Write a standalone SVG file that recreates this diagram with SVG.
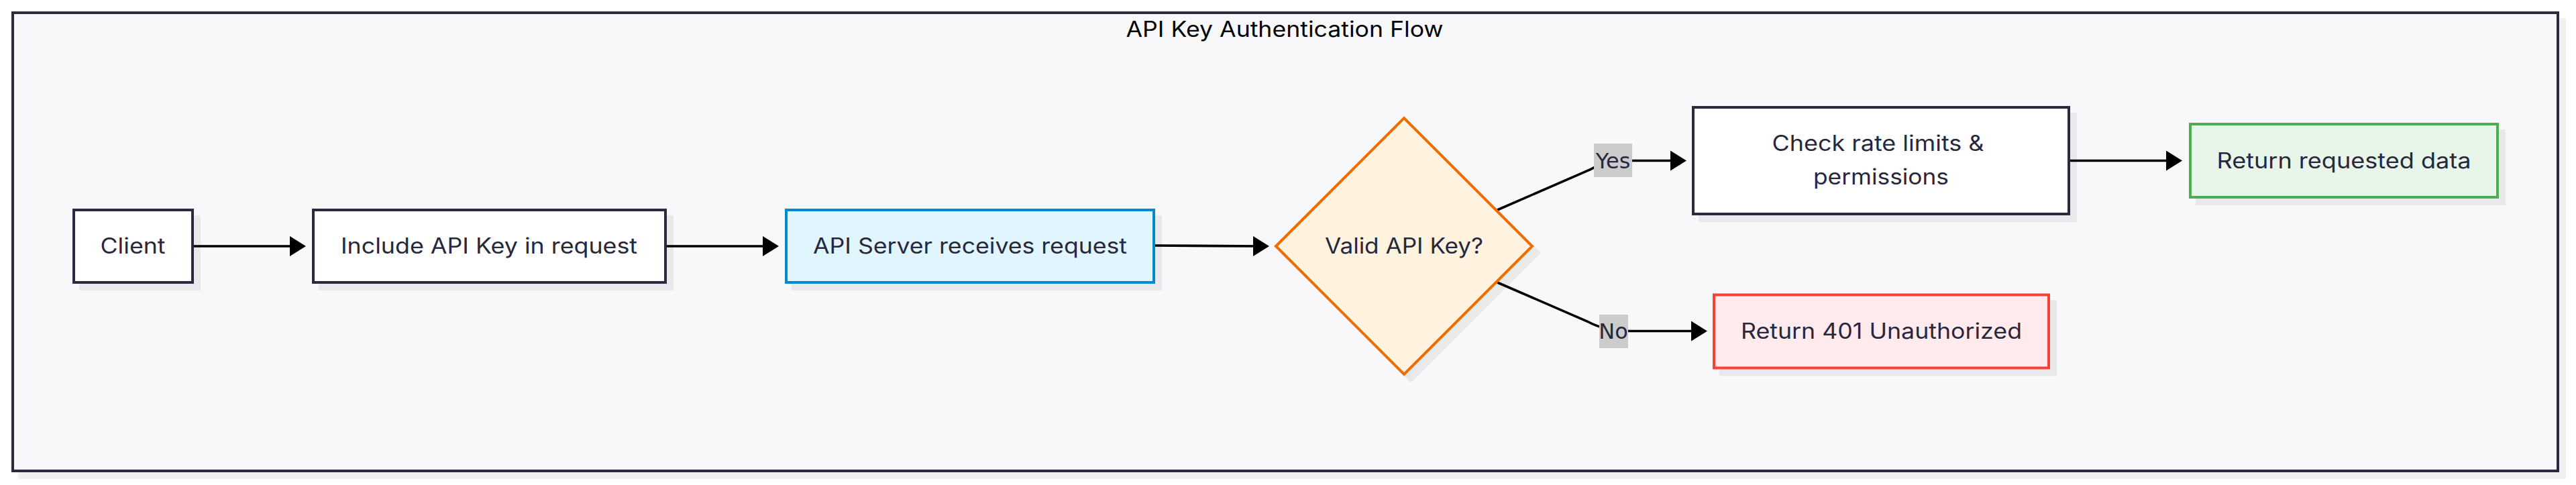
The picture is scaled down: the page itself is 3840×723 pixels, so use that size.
<svg xmlns="http://www.w3.org/2000/svg" width="3840" height="723" viewBox="0 0 3840 723">
<style>
.node{fill:#ffffff;stroke:#2b2a40;stroke-width:4;filter:url(#sh)}
.blue{fill:#e1f5fe;stroke:#0288d1}
.orange{fill:#fff3e0;stroke:#ef6c00}
.green{fill:#e8f5e9;stroke:#4caf50}
.red{fill:#ffebee;stroke:#f44336}
.t{font-family:Inter,"Noto Sans","Liberation Sans",sans-serif;font-size:32px;fill:#28283d;text-anchor:middle}
.title{font-family:Inter,"Noto Sans","Liberation Sans",sans-serif;font-size:32px;fill:#000000;text-anchor:middle}
.edge{fill:none;stroke:#000000;stroke-width:3.6;marker-end:url(#arr)}
.lblbg{fill:#cccccc}
.lbl{font-family:"DejaVu Sans",sans-serif;font-size:32px;fill:#28283d;text-anchor:middle}
</style>
<defs>
<filter id="sh" x="-10%" y="-10%" width="130%" height="140%">
<feDropShadow dx="10" dy="10" stdDeviation="0.6" flood-color="#000000" flood-opacity="0.06"/>
</filter>
<marker id="arr" viewBox="0 0 24 30" refX="12" refY="15" markerWidth="24" markerHeight="30" markerUnits="userSpaceOnUse" orient="auto">
<path d="M0,0 L24,15 L0,30 Z" fill="#000000"/>
</marker>
</defs>
<rect x="0" y="0" width="3840" height="723" fill="#ffffff"/>
<g id="cluster">
<rect x="19" y="19" width="3794" height="683" fill="#f8f8fa" stroke="#2b2a40" stroke-width="4" filter="url(#sh)"/>
<text class="title" x="1915" y="55" textLength="473" lengthAdjust="spacingAndGlyphs">API Key Authentication Flow</text>
</g>
<g id="connectors">
<path class="edge" d="M287,367 L444,367"/>
<path class="edge" d="M992,367 L1149,367"/>
<path class="edge" d="M1720,366 C1790,366 1820,367 1880,367"/>
<path class="edge" d="M2232,313 L2370,253 Q2392,240 2420,239.5 L2502,239.5"/>
<path class="edge" d="M2232,421 L2366,479 Q2392,493.5 2430,493.5 L2533,493.5"/>
<path class="edge" d="M3084,239.5 L3241,239.5"/>
<g id="label-yes">
<rect class="lblbg" x="2376" y="214" width="57" height="50"/>
<text class="lbl" x="2404.5" y="251">Yes</text>
</g>
<g id="label-no">
<rect class="lblbg" x="2384" y="469" width="43" height="50"/>
<text class="lbl" x="2405" y="504.5">No</text>
</g>
</g>
<g id="node-client">
<rect class="node" x="110" y="313" width="177" height="108"/>
<text class="t" x="198" y="378" textLength="97" lengthAdjust="spacingAndGlyphs">Client</text>
</g>
<g id="node-include">
<rect class="node" x="467" y="313" width="525" height="108"/>
<text class="t" x="729" y="378" textLength="442" lengthAdjust="spacingAndGlyphs">Include API Key in request</text>
</g>
<g id="node-server">
<rect class="node blue" x="1172" y="313" width="548" height="108"/>
<text class="t" x="1446" y="378" textLength="468" lengthAdjust="spacingAndGlyphs">API Server receives request</text>
</g>
<g id="node-valid">
<polygon class="node orange" points="1902,367 2093,176 2284,367 2093,558"/>
<text class="t" x="2093" y="378" textLength="236" lengthAdjust="spacingAndGlyphs">Valid API Key?</text>
</g>
<g id="node-check">
<rect class="node" x="2524" y="160" width="560" height="159"/>
<text class="t" x="2799.5" y="225" textLength="316" lengthAdjust="spacingAndGlyphs">Check rate limits &amp;</text>
<text class="t" x="2804" y="274.5" textLength="202" lengthAdjust="spacingAndGlyphs">permissions</text>
</g>
<g id="node-data">
<rect class="node green" x="3265" y="185" width="458" height="109"/>
<text class="t" x="3494" y="250.5" textLength="379" lengthAdjust="spacingAndGlyphs">Return requested data</text>
</g>
<g id="node-401">
<rect class="node red" x="2555" y="439.5" width="499" height="109"/>
<text class="t" x="2804.5" y="504.5" textLength="419" lengthAdjust="spacingAndGlyphs">Return 401 Unauthorized</text>
</g>
</svg>
